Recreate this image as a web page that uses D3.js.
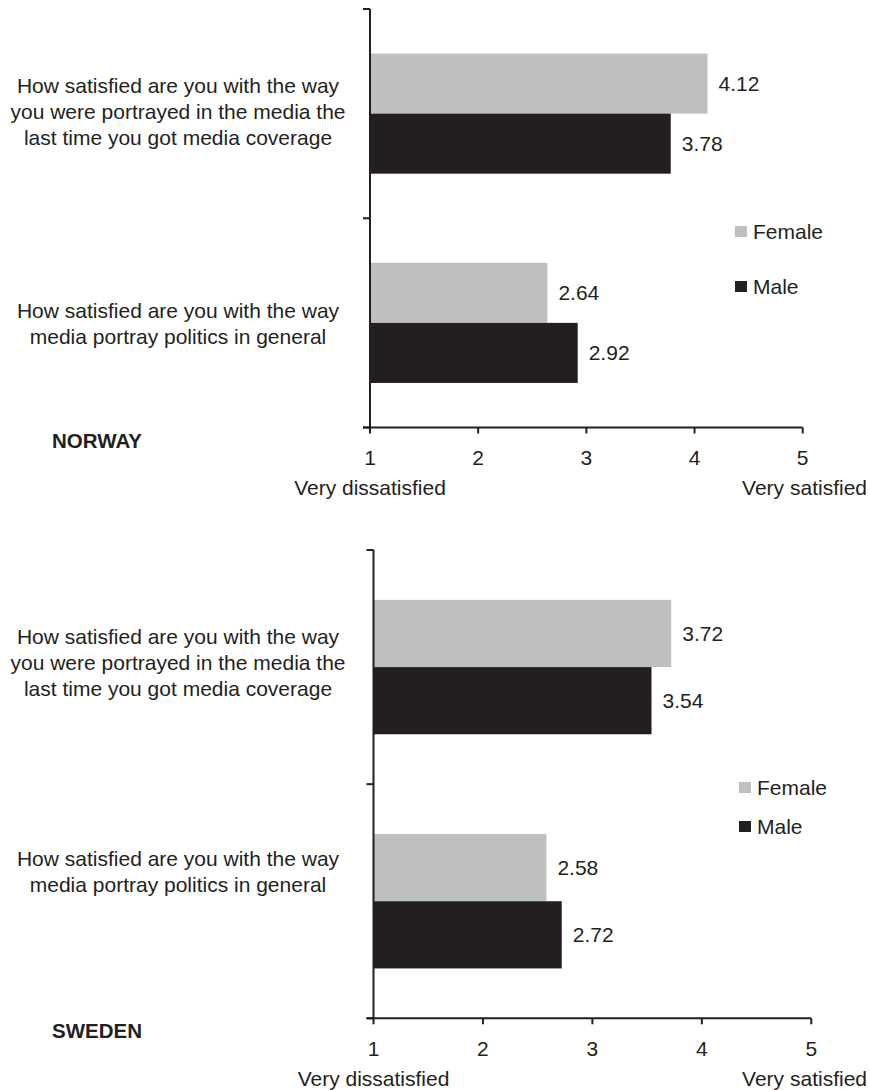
<!DOCTYPE html>
<html>
<head>
<meta charset="utf-8">
<script src="https://cdn.jsdelivr.net/npm/d3@7"></script>
<style>
  html, body { margin: 0; padding: 0; background: #fff; }
  svg { display: block; font-family: "Liberation Sans", Arial, sans-serif; }
</style>
</head>
<body>
<svg id="chart" width="870" height="1090"></svg>
<script>
// Survey questions (one line per array element)
const questions = [
  ["How satisfied are you with the way", "you were portrayed in the media the", "last time you got media coverage"],
  ["How satisfied are you with the way", "media portray politics in general"]
];
const seriesNames = ["Female", "Male"];
const countries = ["NORWAY", "SWEDEN"];
// Mean satisfaction per question, by gender (1 = very dissatisfied, 5 = very satisfied)
const norwayFemale = [4.12, 2.64];
const norwayMale = [3.78, 2.92];
const swedenFemale = [3.72, 2.58];
const swedenMale = [3.54, 2.72];
const xTicks = [1, 2, 3, 4, 5];
const scaleEnds = ["Very dissatisfied", "Very satisfied"];

const colors = { Female: "#bebfc1", Male: "#231f20" };
const ink = "#231f20";
const fs = 21;

const svg = d3.select("#chart");

const panels = [
  { name: countries[0], values: [norwayFemale, norwayMale],
    left: 370, right: 802.7, top: 9, bottom: 427.5, legendY: 232, legendGap: 55, legendX: 735,
    labelShift: [-1.5, 1] },
  { name: countries[1], values: [swedenFemale, swedenMale],
    left: 373.5, right: 811.3, top: 550, bottom: 1018.3, legendY: 788, legendGap: 39, legendX: 739,
    labelShift: [-4, -30] }
];

panels.forEach(p => {
  const g = svg.append("g");
  const x = d3.scaleLinear().domain([1, 5]).range([p.left, p.right]);
  const y = d3.scaleBand().domain(d3.range(questions.length)).range([p.top, p.bottom]);
  const barH = y.bandwidth() * 0.287;
  const sub = d3.scaleBand().domain(seriesNames).range([0, barH * 2]);

  // Bars
  seriesNames.forEach((s, si) => {
    const vals = p.values[si];
    g.selectAll(null).data(vals).enter().append("rect")
      .attr("x", x(1))
      .attr("y", (d, i) => y(i) + y.bandwidth() / 2 - barH + sub(s))
      .attr("width", d => x(d) - x(1))
      .attr("height", barH)
      .attr("fill", colors[s]);
    g.selectAll(null).data(vals).enter().append("text")
      .attr("x", d => x(d) + 11)
      .attr("y", (d, i) => y(i) + y.bandwidth() / 2 - barH + sub(s) + barH / 2)
      .attr("dy", "0.35em")
      .attr("font-size", fs)
      .attr("fill", ink)
      .text(d => d.toFixed(2));
  });

  // Vertical category axis
  const yAxisG = g.append("g");
  yAxisG.append("line")
    .attr("x1", p.left).attr("x2", p.left)
    .attr("y1", p.top).attr("y2", p.bottom)
    .attr("stroke", ink).attr("stroke-width", 2);
  const catTicks = [p.top, p.top + y.bandwidth(), p.bottom];
  yAxisG.selectAll(null).data(catTicks).enter().append("line")
    .attr("x1", p.left - 7).attr("x2", p.left)
    .attr("y1", d => d).attr("y2", d => d)
    .attr("stroke", ink).attr("stroke-width", 2);

  // Horizontal value axis
  const xAxisG = g.append("g");
  xAxisG.append("line")
    .attr("x1", p.left - 7).attr("x2", p.right)
    .attr("y1", p.bottom).attr("y2", p.bottom)
    .attr("stroke", ink).attr("stroke-width", 2);
  xAxisG.selectAll(null).data(xTicks).enter().append("line")
    .attr("x1", d => x(d)).attr("x2", d => x(d))
    .attr("y1", p.bottom).attr("y2", p.bottom + 6)
    .attr("stroke", ink).attr("stroke-width", 2);
  xAxisG.selectAll(null).data(xTicks).enter().append("text")
    .attr("x", d => x(d))
    .attr("y", p.bottom + 30)
    .attr("dy", "0.35em")
    .attr("text-anchor", "middle")
    .attr("font-size", fs)
    .attr("fill", ink)
    .text(d => d);
  xAxisG.append("text")
    .attr("x", x(1)).attr("y", p.bottom + 60).attr("dy", "0.35em")
    .attr("text-anchor", "middle").attr("font-size", fs).attr("fill", ink)
    .text(scaleEnds[0]);
  xAxisG.append("text")
    .attr("x", 867).attr("y", p.bottom + 60).attr("dy", "0.35em")
    .attr("text-anchor", "end").attr("font-size", fs).attr("fill", ink)
    .text(scaleEnds[1]);

  // Question labels, centred to the left of the axis
  questions.forEach((lines, qi) => {
    const cy = y(qi) + y.bandwidth() / 2 + p.labelShift[qi];
    const lh = 26;
    const t = g.append("text")
      .attr("text-anchor", "middle")
      .attr("font-size", fs)
      .attr("fill", ink);
    lines.forEach((ln, li) => {
      t.append("tspan")
        .attr("x", 178)
        .attr("y", cy + (li - (lines.length - 1) / 2) * lh)
        .attr("dy", "0.35em")
        .text(ln);
    });
  });

  // Country label
  g.append("text")
    .attr("x", 52).attr("y", p.bottom + 13).attr("dy", "0.35em")
    .attr("font-size", 20.5).attr("font-weight", "bold").attr("fill", ink)
    .text(p.name);

  // Legend
  seriesNames.forEach((s, si) => {
    const ly = p.legendY + si * p.legendGap;
    g.append("rect")
      .attr("x", p.legendX).attr("y", ly - 6)
      .attr("width", 12).attr("height", 11)
      .attr("fill", colors[s]);
    g.append("text")
      .attr("x", p.legendX + 18).attr("y", ly).attr("dy", "0.35em")
      .attr("font-size", fs).attr("fill", ink)
      .text(s);
  });
});
</script>
</body>
</html>
